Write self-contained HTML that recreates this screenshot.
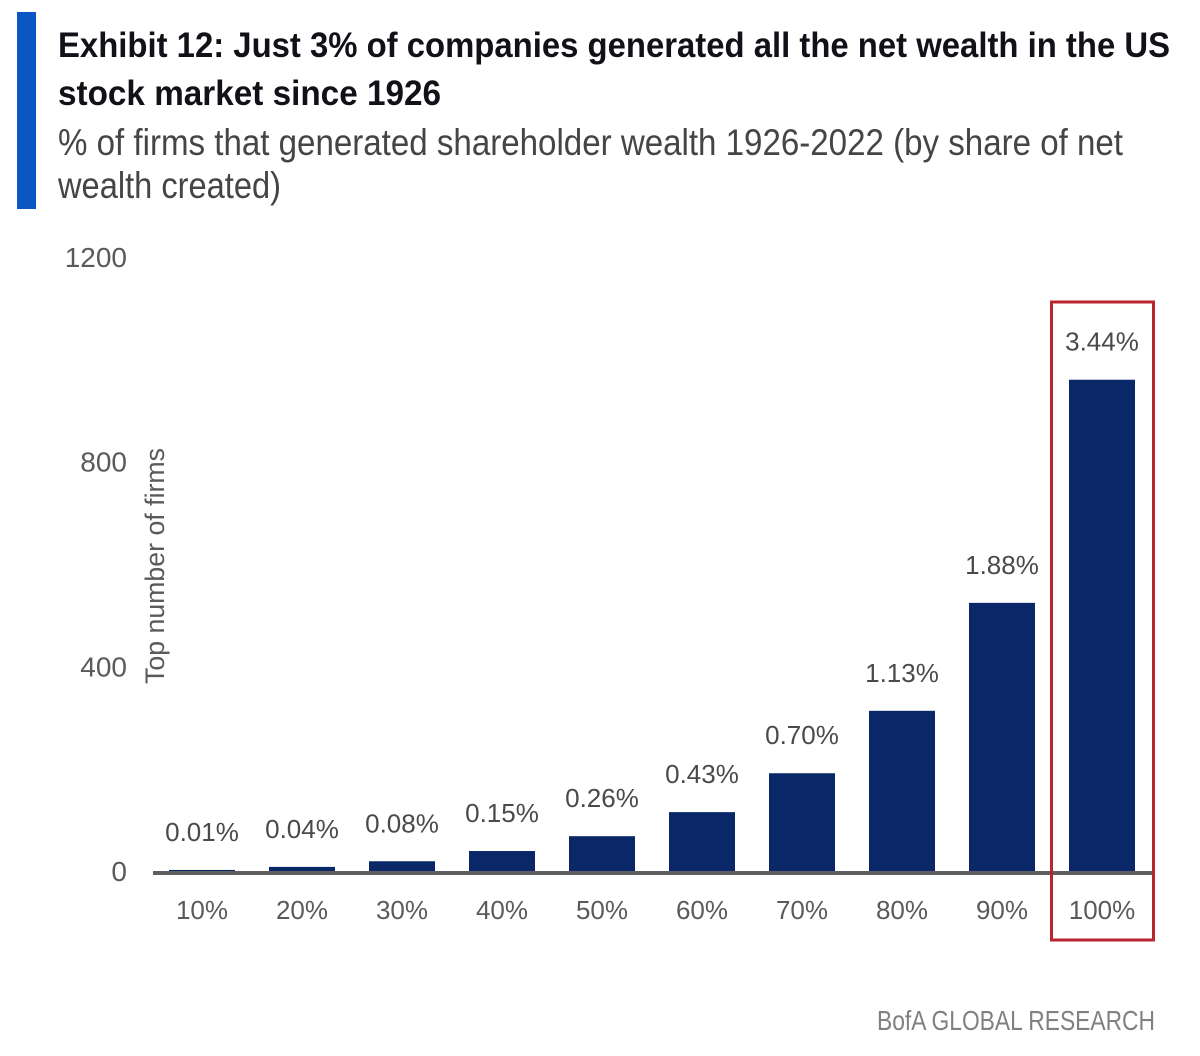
<!DOCTYPE html>
<html lang="en">
<head>
<meta charset="utf-8">
<title>Exhibit 12</title>
<style>
html,body{margin:0;padding:0;background:#fff;}
svg{display:block;font-family:"Liberation Sans",sans-serif;}
</style>
</head>
<body>
<svg id="chart" width="1200" height="1056" viewBox="0 0 1200 1056" xmlns="http://www.w3.org/2000/svg">
  <rect width="1200" height="1056" fill="#ffffff"/>
  <rect x="17" y="12" width="19" height="197" fill="#0a56c4"/>
  <text x="58" y="57" font-size="35" font-weight="700" fill="#101218" textLength="1112" lengthAdjust="spacingAndGlyphs">Exhibit 12: Just 3% of companies generated all the net wealth in the US</text>
  <text x="58" y="105" font-size="35" font-weight="700" fill="#101218" textLength="383" lengthAdjust="spacingAndGlyphs">stock market since 1926</text>
  <text x="58" y="155" font-size="37" fill="#454547" textLength="1065" lengthAdjust="spacingAndGlyphs">% of firms that generated shareholder wealth 1926-2022 (by share of net</text>
  <text x="58" y="198" font-size="37" fill="#454547" textLength="223" lengthAdjust="spacingAndGlyphs">wealth created)</text>
  <text transform="translate(164,566) rotate(-90)" text-anchor="middle" font-size="27" fill="#5a5a5c" textLength="236" lengthAdjust="spacingAndGlyphs">Top number of firms</text>
  <g id="y-ticks"></g>
  <g id="bars"></g>
  <g id="values"></g>
  <g id="x-ticks"></g>
  <line x1="153" y1="873" x2="1152" y2="873" stroke="#5f5f63" stroke-width="4"/>
  <rect x="1051.5" y="302" width="102" height="638" fill="none" stroke="#b8252d" stroke-width="3"/>
  <text x="1155" y="1030" text-anchor="end" font-size="28" fill="#808184" textLength="278" lengthAdjust="spacingAndGlyphs">BofA GLOBAL RESEARCH</text>
</svg>
<script>
const categories = ["10%","20%","30%","40%","50%","60%","70%","80%","90%","100%"];
const firmCounts = [4,10,21,41,70,117,193,315,526,962];
const shareLabels = ["0.01%","0.04%","0.08%","0.15%","0.26%","0.43%","0.70%","1.13%","1.88%","3.44%"];
const yTickValues = [0,400,800,1200];

const NS = "http://www.w3.org/2000/svg";
const baseY = 872;
const pxPerUnit = 0.5117;
const bandStart = 152;
const bandStep = 100;
const barWidth = 66;
function yScale(v){ return baseY - v * pxPerUnit; }
function xScale(i){ return bandStart + bandStep * i + bandStep / 2; }
function mk(tag, parent, props, content){
  const el = document.createElementNS(NS, tag);
  for (const k in props) el.setAttribute(k, props[k]);
  if (content !== undefined) el.textContent = content;
  parent.appendChild(el);
  return el;
}
const yG = document.getElementById("y-ticks");
const barsG = document.getElementById("bars");
const valG = document.getElementById("values");
const xG = document.getElementById("x-ticks");

yTickValues.forEach(function(v){
  const t = mk("text", yG, {x:127, y:yScale(v)+9, "text-anchor":"end", "font-size":28, fill:"#5a5a5c"}, String(v));
  
  
});
categories.forEach(function(c, i){
  const cx = xScale(i);
  const top = yScale(firmCounts[i]);
  const b = mk("rect", barsG, {x:cx-barWidth/2, y:top, width:barWidth, height:baseY-top, fill:"#0a2768"});
  
  
  const l = mk("text", valG, {x:cx, y:top-29, "text-anchor":"middle", "font-size":26, fill:"#4a4a4d"}, shareLabels[i]);
  
  
  const x = mk("text", xG, {x:cx, y:919, "text-anchor":"middle", "font-size":26, fill:"#5a5a5c"}, c);
  
  
});
</script>
</body>
</html>
